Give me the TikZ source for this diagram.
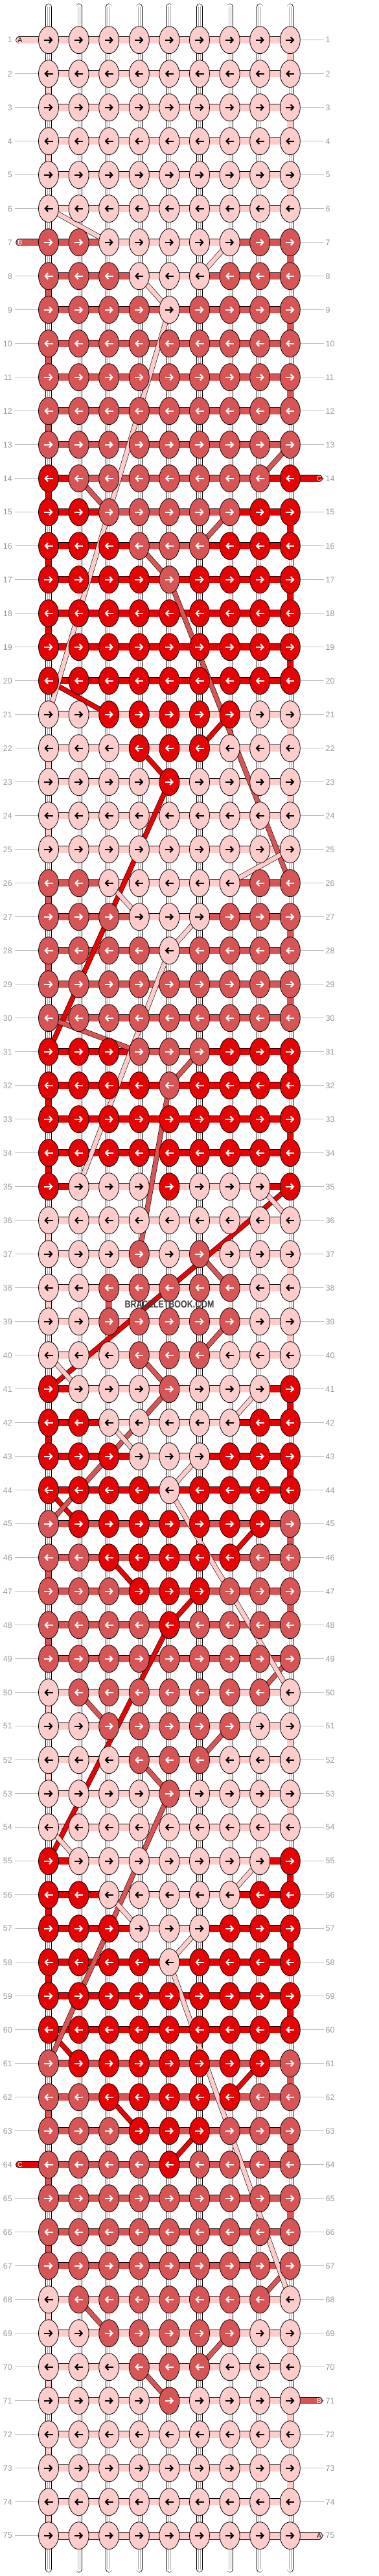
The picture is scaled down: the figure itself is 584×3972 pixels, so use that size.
\documentclass[tikz,border=0pt]{standalone}
\usepackage{fontspec}
\setmainfont{Liberation Sans}
\usetikzlibrary{shapes.geometric,arrows.meta}
\definecolor{colA}{HTML}{FFCCCC}
\definecolor{colB}{HTML}{D85555}
\definecolor{colC}{HTML}{E50303}
\colorlet{arA}{black}
\colorlet{arB}{white}
\colorlet{arC}{white}
\definecolor{lblgray}{HTML}{999999}
\definecolor{rulegray}{HTML}{BBBBBB}
\definecolor{innergray}{HTML}{AAAAAA}
\definecolor{wmgray}{HTML}{3C3C3C}
\pgfdeclarelayer{lvert}
\pgfdeclarelayer{lhor}
\pgfdeclarelayer{ldiag}
\pgfdeclarelayer{ltop}
\pgfsetlayers{lvert,lhor,ldiag,main,ltop}
\tikzset{
  knot/.style={ellipse, draw=black, line width=0.8pt, minimum width=31pt, minimum height=42pt, inner sep=0pt},
  arr/.style={line width=2.2pt, -{Straight Barb[length=4.2pt,width=9pt]}},
  vband/.style={draw=black, double=#1, double distance=8.8pt, line width=0.6pt},
  hband/.style={draw=black, double=#1, double distance=10.3pt, line width=0.6pt},
  dband/.style={draw=black, double=#1, double distance=6.6pt, line width=0.6pt},
  innerline/.style={draw=innergray, line width=0.6pt},
  rowrule/.style={draw=rulegray, line width=0.8pt},
  lbl/.style={text=lblgray, inner sep=0pt, font=\fontsize{12.5}{14}\selectfont},
  taillbl/.style={inner sep=0pt, font=\fontsize{10.5}{12}\selectfont},
}
\begin{document}
\begin{tikzpicture}[x=1pt,y=-1pt]
\useasboundingbox (0,0) rectangle (584,3972);
\begin{pgfonlayer}{lvert}\fill[white] (0,0) rectangle (584,3972);\end{pgfonlayer}
% knots
\foreach \row [count=\r] in {%
{A,A,A,A,A,A,A,A,A},%1
{A,A,A,A,A,A,A,A,A},%2
{A,A,A,A,A,A,A,A,A},%3
{A,A,A,A,A,A,A,A,A},%4
{A,A,A,A,A,A,A,A,A},%5
{A,A,A,A,A,A,A,A,A},%6
{B,B,A,A,A,A,A,B,B},%7
{B,B,B,A,A,A,B,B,B},%8
{B,B,B,B,A,B,B,B,B},%9
{B,B,B,B,B,B,B,B,B},%10
{B,B,B,B,B,B,B,B,B},%11
{B,B,B,B,B,B,B,B,B},%12
{B,B,B,B,B,B,B,B,B},%13
{C,B,B,B,B,B,B,B,C},%14
{C,C,B,B,B,B,B,C,C},%15
{C,C,C,B,B,B,C,C,C},%16
{C,C,C,C,B,C,C,C,C},%17
{C,C,C,C,C,C,C,C,C},%18
{C,C,C,C,C,C,C,C,C},%19
{C,C,C,C,C,C,C,C,C},%20
{A,A,C,C,C,C,C,A,A},%21
{A,A,A,C,C,C,A,A,A},%22
{A,A,A,A,C,A,A,A,A},%23
{A,A,A,A,A,A,A,A,A},%24
{A,A,A,A,A,A,A,A,A},%25
{B,B,A,A,A,A,A,B,B},%26
{B,B,B,A,A,A,B,B,B},%27
{B,B,B,B,A,B,B,B,B},%28
{B,B,B,B,B,B,B,B,B},%29
{B,B,B,B,B,B,B,B,B},%30
{C,C,C,B,B,B,C,C,C},%31
{C,C,C,C,B,C,C,C,C},%32
{C,C,C,C,C,C,C,C,C},%33
{C,C,C,C,C,C,C,C,C},%34
{C,A,A,A,C,A,A,A,C},%35
{A,A,A,A,A,A,A,A,A},%36
{A,A,A,B,A,B,A,A,A},%37
{A,A,B,B,B,B,B,A,A},%38
{A,A,B,B,B,B,B,A,A},%39
{A,A,A,B,B,B,A,A,A},%40
{C,A,A,A,B,A,A,A,C},%41
{C,C,A,A,A,A,A,C,C},%42
{C,C,C,A,A,A,C,C,C},%43
{C,C,C,C,A,C,C,C,C},%44
{B,C,C,C,C,C,C,C,B},%45
{B,B,C,C,C,C,C,B,B},%46
{B,B,B,C,C,C,B,B,B},%47
{B,B,B,B,C,B,B,B,B},%48
{B,B,B,B,B,B,B,B,B},%49
{A,B,B,B,B,B,B,B,A},%50
{A,A,B,B,B,B,B,A,A},%51
{A,A,A,B,B,B,A,A,A},%52
{A,A,A,A,B,A,A,A,A},%53
{A,A,A,A,A,A,A,A,A},%54
{C,A,A,A,A,A,A,A,C},%55
{C,C,A,A,A,A,A,C,C},%56
{C,C,C,A,A,A,C,C,C},%57
{C,C,C,C,A,C,C,C,C},%58
{C,C,C,C,C,C,C,C,C},%59
{C,C,C,C,C,C,C,C,C},%60
{B,C,C,C,C,C,C,C,B},%61
{B,B,C,C,C,C,C,B,B},%62
{B,B,B,C,C,C,B,B,B},%63
{B,B,B,B,C,B,B,B,B},%64
{B,B,B,B,B,B,B,B,B},%65
{B,B,B,B,B,B,B,B,B},%66
{B,B,B,B,B,B,B,B,B},%67
{A,B,B,B,B,B,B,B,A},%68
{A,A,B,B,B,B,B,A,A},%69
{A,A,A,B,B,B,A,A,A},%70
{A,A,A,A,B,A,A,A,A},%71
{A,A,A,A,A,A,A,A,A},%72
{A,A,A,A,A,A,A,A,A},%73
{A,A,A,A,A,A,A,A,A},%74
{A,A,A,A,A,A,A,A,A}%75
}{%
  \pgfmathsetmacro\yy{61.7+52*(\r-1)}%
  \foreach \k [count=\c] in \row {%
    \pgfmathsetmacro\xx{75+46.6*(\c-1)}%
    \node[knot, fill=col\k] (k\r-\c) at (\xx,\yy) {};%
    \ifodd\r\relax
      \draw[arr, draw=ar\k] ([xshift=-6.6pt]k\r-\c.center) -- ([xshift=6.6pt]k\r-\c.center);%
    \else
      \draw[arr, draw=ar\k] ([xshift=6.6pt]k\r-\c.center) -- ([xshift=-6.6pt]k\r-\c.center);%
    \fi
  }%
}
% row numbers and rules
\foreach \r in {1,...,75}{%
  \pgfmathsetmacro\yy{61.7+52*(\r-1)}%
  \coordinate (ll\r) at (23.3,\yy);%
  \coordinate (rl\r) at (499.5,\yy);%
  \node[lbl, anchor=east] (nl\r) at (19,\yy) {\r};%
  \node[lbl, anchor=west] (nr\r) at (502.5,\yy) {\r};%
  \begin{pgfonlayer}{lvert}%
    \draw[rowrule] (ll\r) -- (k\r-1.west);%
    \draw[rowrule] (k\r-9.east) -- (rl\r);%
  \end{pgfonlayer}%
}
% top and bottom free ends
\foreach \c in {1,...,9}{%
  \pgfmathsetmacro\xx{75+46.6*(\c-1)}%
  \coordinate (t\c) at (\xx,10.5);%
  \coordinate (b\c) at (\xx,3961.5);%
  \begin{pgfonlayer}{lvert}%
    \draw[vband=white, line cap=round] (t\c) -- (k1-\c.center);%
    \draw[innerline] ([xshift=-1.5pt]t\c) -- ([xshift=-1.5pt]k1-\c.center);%
    \draw[innerline] ([xshift=1.5pt]t\c) -- ([xshift=1.5pt]k1-\c.center);%
    \draw[vband=white, line cap=round] (k75-\c.center) -- (b\c);%
    \draw[innerline] ([xshift=-1.5pt]k75-\c.center) -- ([xshift=-1.5pt]b\c);%
    \draw[innerline] ([xshift=1.5pt]k75-\c.center) -- ([xshift=1.5pt]b\c);%
  \end{pgfonlayer}%
}
% white vertical strings
\begin{pgfonlayer}{lvert}
\foreach \r in {1,...,74}{%
  \pgfmathtruncatemacro\rn{\r+1}%
  \foreach \c in {1,...,9}{%
    \draw[vband=white] (k\r-\c.center) -- (k\rn-\c.center);%
    \draw[innerline] ([xshift=-1.5pt]k\r-\c.center) -- ([xshift=-1.5pt]k\rn-\c.center);%
    \draw[innerline] ([xshift=1.5pt]k\r-\c.center) -- ([xshift=1.5pt]k\rn-\c.center);%
  }%
}
% coloured vertical turns
\foreach \r/\c/\k in {1/9/A,2/1/A,3/9/A,4/1/A,5/9/A,21/9/A,22/1/A,23/9/A,24/1/A,36/1/A,37/9/A,38/1/A,39/9/A,50/1/A,51/9/A,52/1/A,53/9/A,68/1/A,69/9/A,70/1/A,71/9/A,72/1/A,73/9/A,74/1/A,%
7/9/B,8/1/B,9/9/B,10/1/B,11/9/B,12/1/B,26/1/B,27/9/B,28/1/B,29/9/B,38/3/B,45/9/B,46/1/B,47/9/B,48/1/B,61/9/B,62/1/B,63/9/B,64/1/B,65/9/B,66/1/B,%
14/1/C,15/9/C,16/1/C,17/9/C,18/1/C,19/9/C,31/9/C,32/1/C,33/9/C,34/1/C,41/9/C,42/1/C,43/9/C,55/9/C,56/1/C,57/9/C,58/1/C,59/9/C}{%
  \pgfmathtruncatemacro\rn{\r+1}%
  \draw[vband=col\k] (k\r-\c.center) -- (k\rn-\c.center);%
}
\end{pgfonlayer}
% horizontal strings
\begin{pgfonlayer}{lhor}
\foreach \hs [count=\r] in {%
{A,A,A,A,A,A,A,A},{A,A,A,A,A,A,A,A},{A,A,A,A,A,A,A,A},{A,A,A,A,A,A,A,A},{A,A,A,A,A,A,A,A},{A,A,A,A,A,A,A,A},%1-6
{B,B,A,A,A,A,B,B},{B,B,B,A,A,B,B,B},%7-8
{B,B,B,B,B,B,B,B},{B,B,B,B,B,B,B,B},{B,B,B,B,B,B,B,B},{B,B,B,B,B,B,B,B},{B,B,B,B,B,B,B,B},%9-13
{C,B,B,B,B,B,B,C},{C,C,B,B,B,B,C,C},{C,C,C,B,B,C,C,C},%14-16
{C,C,C,C,C,C,C,C},{C,C,C,C,C,C,C,C},{C,C,C,C,C,C,C,C},{C,C,C,C,C,C,C,C},%17-20
{A,A,A,A,A,A,A,A},{A,A,A,A,A,A,A,A},{A,A,A,A,A,A,A,A},{A,A,A,A,A,A,A,A},{A,A,A,A,A,A,A,A},%21-25
{B,B,A,A,A,A,B,B},{B,B,B,A,A,B,B,B},%26-27
{B,B,B,B,B,B,B,B},{B,B,B,B,B,B,B,B},{B,B,B,B,B,B,B,B},%28-30
{C,C,C,B,B,C,C,C},%31
{C,C,C,C,C,C,C,C},{C,C,C,C,C,C,C,C},{C,C,C,C,C,C,C,C},%32-34
{C,A,A,A,A,A,A,C},%35
{A,A,A,A,A,A,A,A},{A,A,A,A,A,A,A,A},{A,A,A,A,A,A,A,A},{A,A,A,A,A,A,A,A},{A,A,A,A,A,A,A,A},%36-40
{C,A,A,A,A,A,A,C},{C,C,A,A,A,A,C,C},{C,C,C,A,A,C,C,C},{C,C,C,C,C,C,C,C},%41-44
{B,B,B,B,B,B,B,B},{B,B,B,B,B,B,B,B},{B,B,B,B,B,B,B,B},{B,B,B,B,B,B,B,B},{B,B,B,B,B,B,B,B},%45-49
{A,A,A,A,A,A,A,A},{A,A,A,A,A,A,A,A},{A,A,A,A,A,A,A,A},{A,A,A,A,A,A,A,A},{A,A,A,A,A,A,A,A},%50-54
{C,A,A,A,A,A,A,C},{C,C,A,A,A,A,C,C},{C,C,C,A,A,C,C,C},%55-57
{C,C,C,C,C,C,C,C},{C,C,C,C,C,C,C,C},{C,C,C,C,C,C,C,C},%58-60
{B,B,B,B,B,B,B,B},{B,B,B,B,B,B,B,B},{B,B,B,B,B,B,B,B},{B,B,B,B,B,B,B,B},{B,B,B,B,B,B,B,B},{B,B,B,B,B,B,B,B},{B,B,B,B,B,B,B,B},%61-67
{A,A,A,A,A,A,A,A},{A,A,A,A,A,A,A,A},{A,A,A,A,A,A,A,A},{A,A,A,A,A,A,A,A},{A,A,A,A,A,A,A,A},{A,A,A,A,A,A,A,A},{A,A,A,A,A,A,A,A},{A,A,A,A,A,A,A,A}%68-75
}{%
  \foreach \k [count=\c] in \hs {%
    \pgfmathtruncatemacro\cn{\c+1}%
    \draw[hband=col\k] (k\r-\c.center) -- (k\r-\cn.center);%
  }%
}
% side free ends
\foreach \r/\k in {1/A,7/B,64/C}{%
  \pgfmathsetmacro\yy{61.7+52*(\r-1)}%
  \coordinate (lt\r) at (30,\yy);%
  \draw[hband=col\k, line cap=round] (lt\r) -- (k\r-1.center);%
}
\foreach \r/\k in {14/C,71/B,75/A}{%
  \pgfmathsetmacro\yy{61.7+52*(\r-1)}%
  \coordinate (rt\r) at (492.3,\yy);%
  \draw[hband=col\k, line cap=round] (k\r-9.center) -- (rt\r);%
}
\end{pgfonlayer}
\foreach \r/\k in {1/A,7/B,64/C}{%
  \pgfmathsetmacro\yy{61.7+52*(\r-1)}%
  \node[taillbl, text=ar\k] (tl\r) at (30.8,\yy) {\k};%
}
\foreach \r/\k in {14/C,71/B,75/A}{%
  \pgfmathsetmacro\yy{61.7+52*(\r-1)}%
  \node[taillbl, text=ar\k] (tr\r) at (492.6,\yy) {\k};%
}
% diagonal carries
\begin{pgfonlayer}{ldiag}
\foreach \ra/\ca/\rb/\cb/\k in {%
20/1/21/3/C,21/7/22/6/C,22/4/23/5/C,23/5/31/1/C,35/9/41/1/C,44/1/45/2/C,45/8/46/7/C,46/3/47/4/C,47/6/48/5/C,48/5/55/1/C,60/1/61/2/C,61/8/62/7/C,62/3/63/4/C,63/6/64/5/C,%
13/9/14/8/B,14/2/15/3/B,15/7/16/6/B,16/4/17/5/B,17/5/26/9/B,30/1/31/4/B,31/6/32/5/B,32/5/37/4/B,37/6/38/7/B,39/7/40/6/B,40/4/41/5/B,41/5/45/1/B,49/9/50/8/B,50/2/51/3/B,51/7/52/6/B,52/4/53/5/B,53/5/61/1/B,67/9/68/8/B,68/2/69/3/B,69/7/70/6/B,70/4/71/5/B,%
6/1/7/3/A,7/7/8/6/A,8/4/9/5/A,9/5/21/1/A,25/9/26/7/A,26/3/27/4/A,27/6/28/5/A,28/5/35/2/A,35/8/36/9/A,40/1/41/2/A,41/8/42/7/A,42/3/43/4/A,43/6/44/5/A,44/5/50/9/A,54/1/55/2/A,55/8/56/7/A,56/3/57/4/A,57/6/58/5/A,58/5/68/9/A%
}{%
  \draw[dband=col\k] (k\ra-\ca.center) -- (k\rb-\cb.center);%
}
\end{pgfonlayer}
% watermark
\begin{pgfonlayer}{ltop}
\node[text=wmgray, inner sep=0pt, font=\fontsize{15.4}{16}\selectfont\bfseries] (wm) at (261.5,2011.5) {\scalebox{0.81}[1]{BRACELETBOOK.COM}};
\end{pgfonlayer}
\end{tikzpicture}
\end{document}
